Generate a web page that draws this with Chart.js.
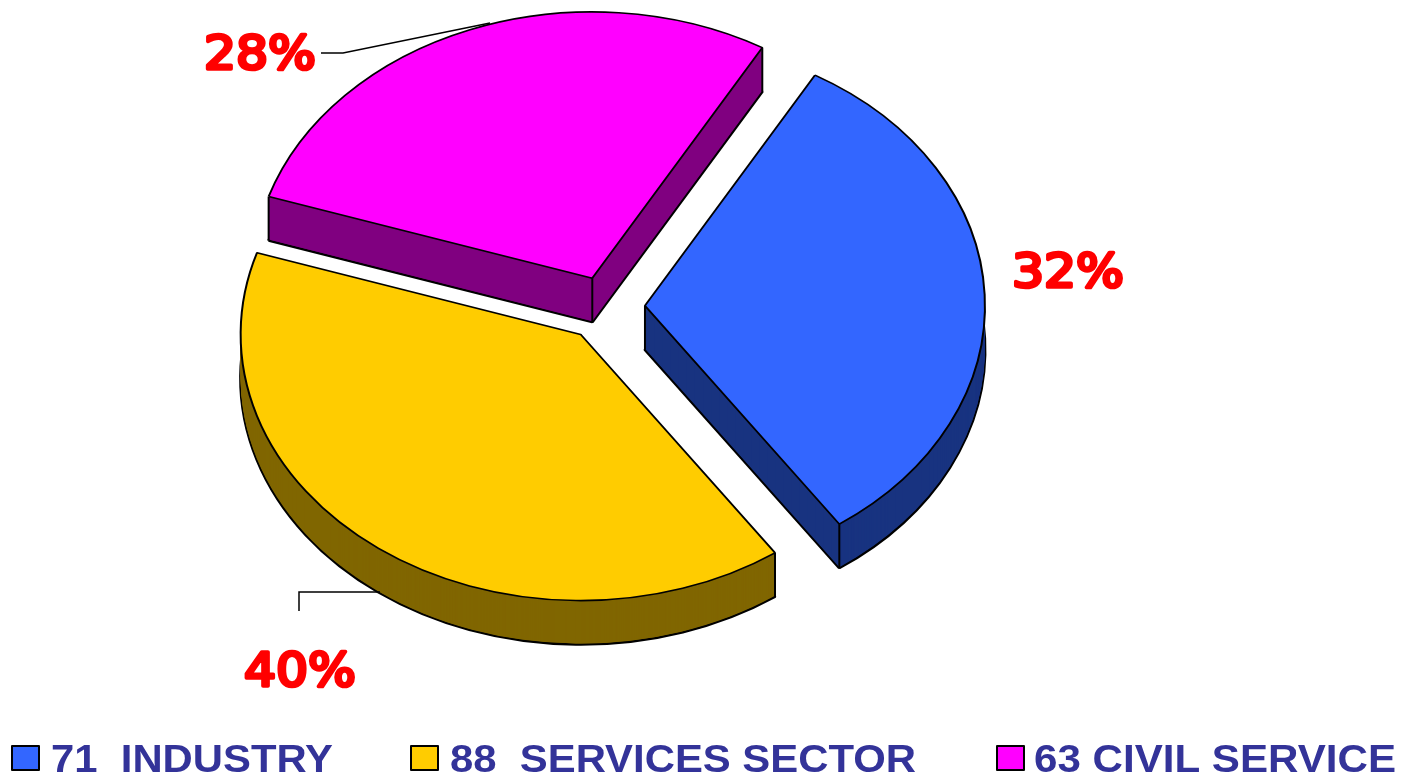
<!DOCTYPE html>
<html>
<head>
<meta charset="utf-8">
<title>Employment by sector</title>
<script src="https://cdn.jsdelivr.net/npm/chart.js@4"></script>
<style>
  html, body { margin: 0; padding: 0; background: #fff; }
  #wrap { width: 1401px; height: 773px; }
  canvas { display: block; }
</style>
</head>
<body>
<div id="wrap"><canvas id="sectorChart"></canvas></div>
<script>
const categories = ['INDUSTRY', 'SERVICES SECTOR', 'CIVIL SERVICE'];
const counts = [71, 88, 63];
const legendTexts = ['71  INDUSTRY', '88  SERVICES SECTOR', '63 CIVIL SERVICE'];
const topColors = ['#3366FF', '#FFCC00', '#FF00FF'];
const sideColors = ['#183380', '#806600', '#800080'];

// look of the tilted pie
const explode = [38.5, 43.5, 39.5];
const center = { x: 606.5, y: 307 };
const tilt = 0.783;
const depth = 44;

// placement of the text around the pie
const percentSpots = [
  { x: 1012, y: 287 },
  { x: 244, y: 686 },
  { x: 204, y: 69 },
];
const leaderLines = [
  [[321, 53], [343, 53], [490, 23]],
  [[299, 611], [299, 592], [380, 592]],
];
const legendSpots = [
  { box: 12, text: 51, width: 282 },
  { box: 411, text: 450, width: 466 },
  { box: 997, text: 1034, width: 362 },
];

function placeSlice(ctx, arc, i, drop) {
  const mid = (arc.startAngle + arc.endAngle) / 2;
  ctx.translate(center.x + explode[i] * Math.cos(mid),
    center.y + drop + tilt * explode[i] * Math.sin(mid));
  ctx.scale(1, tilt);
  ctx.translate(-arc.x, -arc.y);
}

function drawWithColor(ctx, arc, fill, lineWidth) {
  const saved = arc.options;
  arc.options = { ...saved, backgroundColor: fill, borderWidth: lineWidth };
  arc.draw(ctx);
  arc.options = saved;
}

// stretch text sideways so it fills the given width
function fitText(ctx, text, x, y, width, stroke) {
  const sx = width / ctx.measureText(text).width;
  ctx.save();
  ctx.translate(x, y);
  ctx.scale(sx, 1);
  if (stroke) ctx.strokeText(text, 0, 0);
  ctx.fillText(text, 0, 0);
  ctx.restore();
}

const tiltedPie = {
  id: 'tiltedPie',
  beforeDatasetsDraw(chart) {
    const { ctx } = chart;
    const arcs = chart.getDatasetMeta(0).data;
    [2, 0, 1].forEach((i) => {
      const arc = arcs[i];
      // side wall, built up from the bottom layer
      for (let d = depth; d >= 1; d--) {
        ctx.save();
        placeSlice(ctx, arc, i, d);
        drawWithColor(ctx, arc, sideColors[i], d === depth ? 3 : 0);
        ctx.restore();
      }

      // upright edges at the corners of the slice
      ctx.save();
      ctx.strokeStyle = '#000';
      ctx.lineWidth = 2;
      const mid = (arc.startAngle + arc.endAngle) / 2;
      const ox = center.x + explode[i] * Math.cos(mid);
      const oy = center.y + tilt * explode[i] * Math.sin(mid);
      const corners = [[ox, oy]];
      [arc.startAngle, arc.endAngle].forEach((a) => {
        corners.push([ox + arc.outerRadius * Math.cos(a), oy + tilt * arc.outerRadius * Math.sin(a)]);
      });
      corners.forEach(([x, y]) => {
        ctx.beginPath();
        ctx.moveTo(x, y);
        ctx.lineTo(x, y + depth);
        ctx.stroke();
      });
      ctx.restore();

      ctx.save();
      placeSlice(ctx, arc, i, 0);
      drawWithColor(ctx, arc, topColors[i], 2);
      ctx.restore();
    });
    return false;
  },
  afterDraw(chart) {
    const { ctx } = chart;
    const total = counts.reduce((a, b) => a + b, 0);
    ctx.save();

    ctx.strokeStyle = '#000';
    ctx.lineWidth = 1.5;
    leaderLines.forEach((line) => {
      ctx.beginPath();
      line.forEach(([x, y], n) => (n ? ctx.lineTo(x, y) : ctx.moveTo(x, y)));
      ctx.stroke();
    });

    ctx.fillStyle = '#FF0000';
    ctx.strokeStyle = '#FF0000';
    ctx.lineWidth = 3.5;
    ctx.lineJoin = 'round';
    ctx.lineCap = 'round';
    ctx.font = '47px "DejaVu Sans"';
    ctx.textBaseline = 'alphabetic';
    counts.forEach((v, i) => {
      fitText(ctx, Math.round((v / total) * 100) + '%', percentSpots[i].x, percentSpots[i].y, 112, true);
    });

    ctx.font = 'bold 39px "Liberation Sans"';
    legendTexts.forEach((t, i) => {
      const spot = legendSpots[i];
      ctx.fillStyle = topColors[i];
      ctx.fillRect(spot.box, 746, 27, 24);
      ctx.strokeStyle = '#000';
      ctx.lineWidth = 2;
      ctx.strokeRect(spot.box, 746, 27, 24);
      ctx.fillStyle = '#333399';
      fitText(ctx, t, spot.text, 772, spot.width, false);
    });
    ctx.restore();
  },
};

new Chart(document.getElementById('sectorChart').getContext('2d'), {
  type: 'pie',
  data: {
    labels: categories,
    datasets: [{
      data: counts,
      backgroundColor: topColors,
      borderColor: '#000',
      borderWidth: 2,
      radius: 340,
    }],
  },
  options: {
    responsive: true,
    maintainAspectRatio: false,
    animation: false,
    rotation: 30,
    plugins: {
      legend: { display: false },
      tooltip: { enabled: false },
    },
  },
  plugins: [tiltedPie],
});
</script>
</body>
</html>
